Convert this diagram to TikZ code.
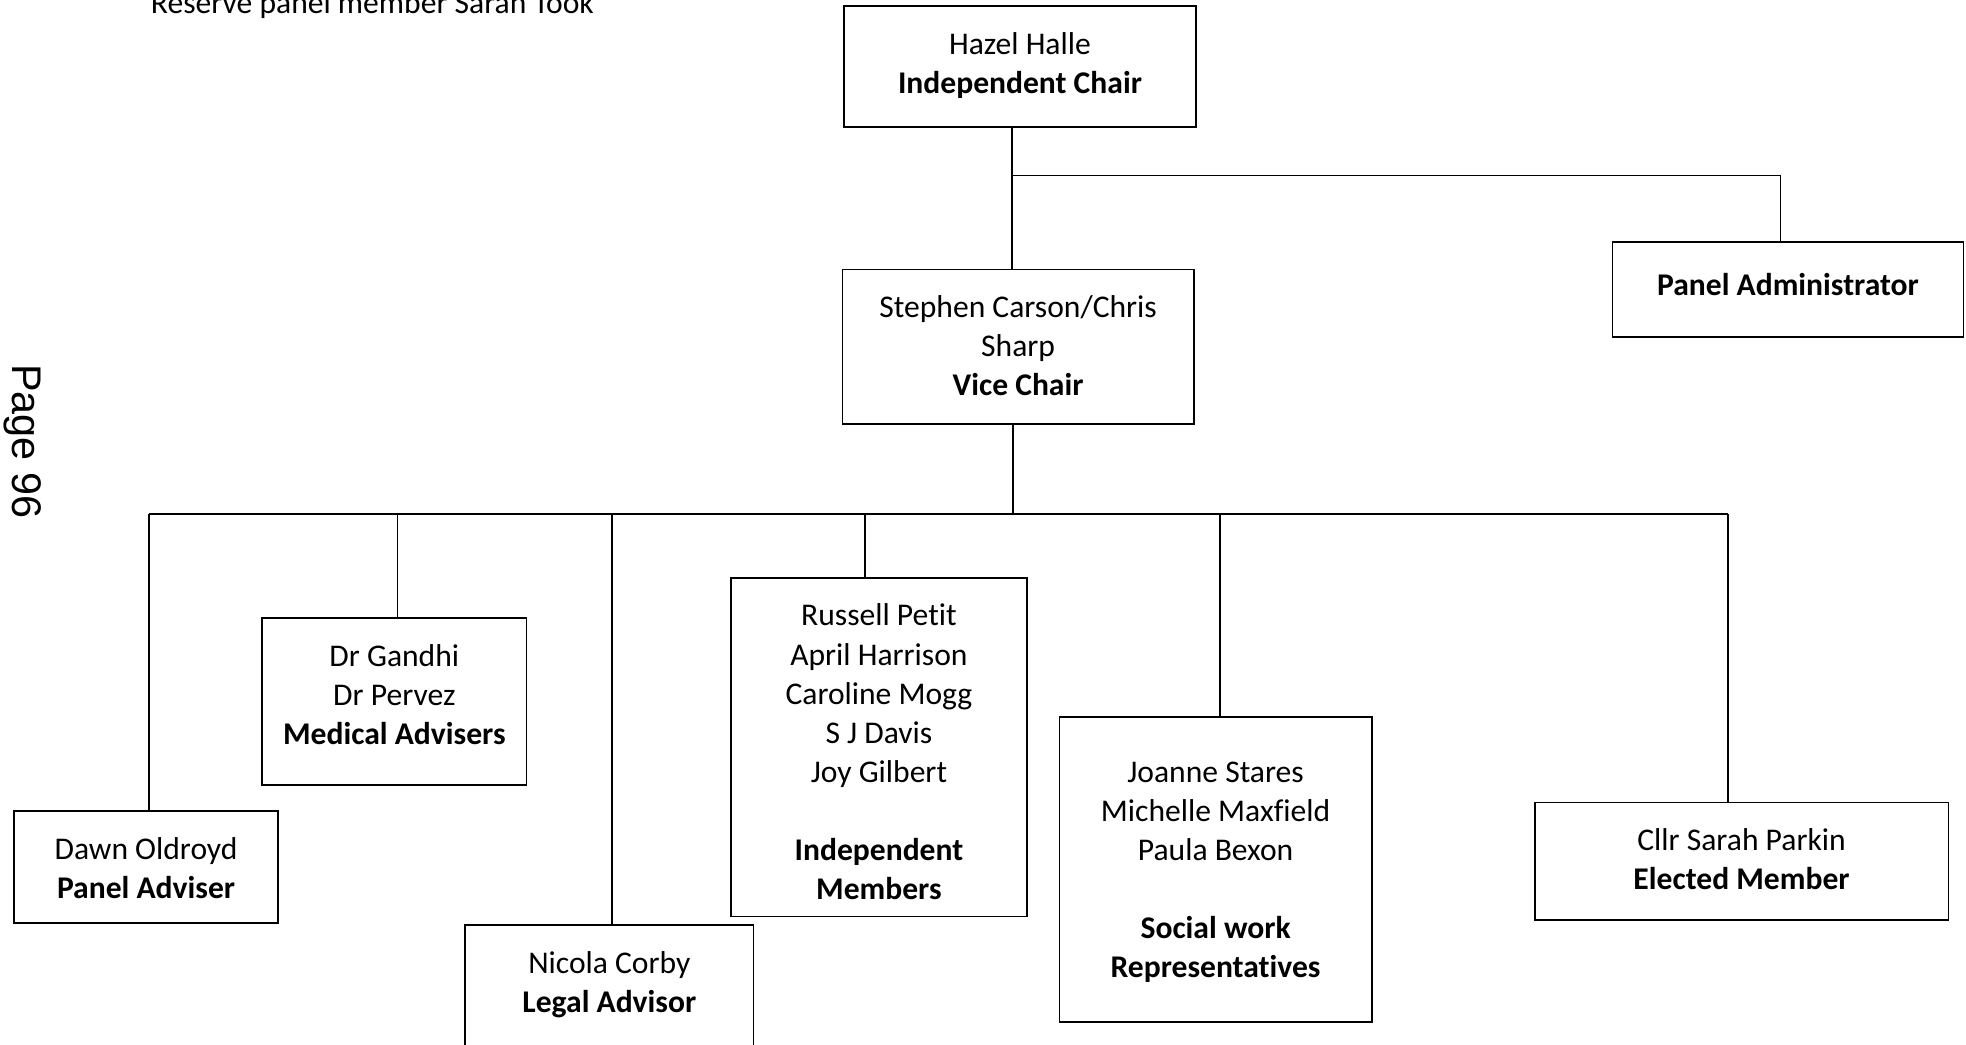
\documentclass[tikz,border=0pt]{standalone}
\usepackage{fontspec}
\setmainfont{Carlito}[Ligatures=NoCommon]
\newfontfamily\pagefont{Liberation Sans}
\usetikzlibrary{positioning,fit}
\tikzset{
    orgbox/.style={draw, line width=0.7pt, inner sep=0pt},
    orgtext/.style={align=center, inner sep=0pt, font=\fontsize{12.6}{15.6}\selectfont, execute at begin node=\strut},
    orgline/.style={line width=0.6pt},
}
\newcommand\OrgBox[6]{% name, left, top, right, bottom, text
    \node[orgbox, fit={(#2,#3) (#4,#5)}] (#1) {};
    \node[orgtext, below=10.5pt of #1.north] (#1-text) {#6};
}

\begin{document}
\begin{tikzpicture}[x=0.5pt, y=-0.5pt]
    \useasboundingbox (0,0) rectangle (1568,833);
    \node[anchor=base west, inner sep=0pt, font=\fontsize{12.6}{15.6}\selectfont] (reserve) at (120,10.5) {Reserve panel member Sarah Took};
    \node[rotate=-90, anchor=base west, inner sep=0pt, font=\pagefont\fontsize{16.5}{18}\selectfont] (pagenum) at (10,290) {Page 96};
    % top
    \OrgBox{chair}{673}{5}{954}{101}{Hazel Halle\\\textbf{Independent Chair}}
    \OrgBox{vice}{672}{215}{952}{338}{Stephen Carson/Chris\\Sharp\\\textbf{Vice Chair}}
    \OrgBox{admin}{1286}{193}{1566}{269}{\textbf{Panel Administrator}}
    % panel
    \OrgBox{adviser}{11}{647}{222}{736}{Dawn Oldroyd\\\textbf{Panel Adviser}}
    \OrgBox{medical}{209}{493}{420}{626}{Dr Gandhi\\Dr Pervez\\\textbf{Medical Advisers}}
    \OrgBox{legal}{371}{738}{601}{836}{Nicola Corby\\\textbf{Legal Advisor}}
    \OrgBox{indep}{583}{461}{819}{731}{Russell Petit\\April Harrison\\Caroline Mogg\\S J Davis\\Joy Gilbert\\[15.6pt]\textbf{Independent}\\\textbf{Members}}
    \OrgBox{social}{845}{572}{1094}{815}{\mbox{}\\Joanne Stares\\Michelle Maxfield\\Paula Bexon\\[15.6pt]\textbf{Social work}\\\textbf{Representatives}}
    \OrgBox{elected}{1224}{640}{1554}{734}{Cllr Sarah Parkin\\\textbf{Elected Member}}
    % lines
    \coordinate (topbus) at (807,140);
    \coordinate (adminbus) at (1420,140);
    \coordinate (lowbus) at (808,410);
    \draw[orgline] (chair.south -| topbus) -- (vice.north -| topbus);
    \draw[orgline] (topbus) -- (adminbus) -- (adminbus |- admin.north);
    \draw[orgline] (vice.south -| lowbus) -- (lowbus);
    \foreach \n/\x in {adviser/119, medical/317, legal/488, indep/690, social/973, elected/1378} {
        \coordinate (drop-\n) at (\x,410);
        \draw[orgline] (drop-\n) -- (drop-\n |- \n.north);
    }
    \draw[orgline] (drop-adviser) -- (drop-elected);
\end{tikzpicture}
\end{document}
